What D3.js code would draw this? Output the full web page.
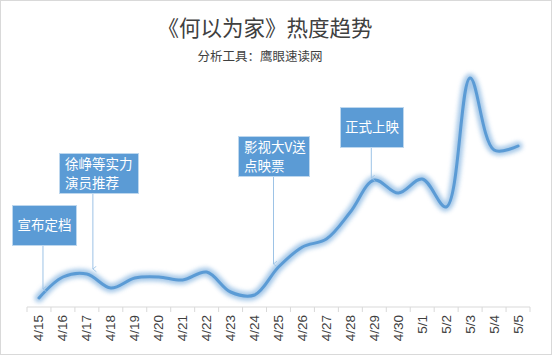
<!DOCTYPE html>
<html><head><meta charset="utf-8">
<script src="https://cdn.jsdelivr.net/npm/d3@7"></script>
<style>
html,body{margin:0;padding:0;background:#fff;}
svg{display:block;}
</style></head>
<body>
<svg id="chart" width="553" height="356"></svg>
<script>
const categories = ["4/15","4/16","4/17","4/18","4/19","4/20","4/21","4/22","4/23","4/24","4/25","4/26","4/27","4/28","4/29","4/30","5/1","5/2","5/3","5/4","5/5"];
const heatValues = [8,29,32,18,28,29,26,34,14,11,39,59,67,94,126,113,127,99,228,156,160];
const annotationDates = ["4/15","4/17","4/25","4/29"];
const annotationTexts = [["宣布定档"],["徐峥等实力","演员推荐"],["影视大V送","点映票"],["正式上映"]];
const annotationBoxTops = [205,153,136,107];
const annotationBoxLefts = [12,59,238,340];
const annotationBoxWidths = [64,79,71,63];
const titleText = "《何以为家》热度趋势";
const subtitleText = "分析工具：鹰眼速读网";

const svg = d3.select("#chart");
const W = 553, H = 356;
const cjk = "'Noto Sans CJK SC','Noto Sans',sans-serif";

// frame
svg.append("rect").attr("x",0.5).attr("y",0.5).attr("width",W-2).attr("height",H-2)
  .attr("fill","#fff").attr("stroke","#d9d9d9");

svg.append("text").attr("x",265).attr("y",36).attr("text-anchor","middle")
  .attr("font-family",cjk).attr("font-size",21.5).attr("fill","#404040").text(titleText);
svg.append("text").attr("x",260).attr("y",61).attr("text-anchor","middle")
  .attr("font-family",cjk).attr("font-size",12.5).attr("fill","#404040").text(subtitleText);

const x = d3.scaleBand().domain(categories).range([27,530]).padding(0);
const y = d3.scaleLinear().domain([0,230]).range([306,76]);

// axis
const axisG = svg.append("g").attr("transform","translate(0,307)");
axisG.append("line").attr("x1",27).attr("x2",530).attr("y1",0).attr("y2",0).attr("stroke","#d9d9d9");
const bounds = categories.map(c=>x(c)).concat([x.range()[1]]);
axisG.selectAll("line.tick").data(bounds).join("line").attr("class","tick")
  .attr("x1",d=>d).attr("x2",d=>d).attr("y1",0).attr("y2",5).attr("stroke","#d9d9d9");
axisG.selectAll("text").data(categories).join("text")
  .attr("transform",d=>`translate(${x(d)+x.bandwidth()/2+4.5},8) rotate(-90)`)
  .attr("text-anchor","end")
  .attr("font-family","'Liberation Sans',Arial,sans-serif").attr("font-size",13.5)
  .attr("fill","#404040").text(d=>d);

// glow filter
const defs = svg.append("defs");
const f = defs.append("filter").attr("id","glow").attr("x","-10%").attr("y","-10%").attr("width","120%").attr("height","120%");
f.append("feGaussianBlur").attr("stdDeviation",2.2);
defs.append("marker").attr("id","arr").attr("viewBox","0 0 10 10").attr("refX",5).attr("refY",9)
  .attr("markerWidth",7).attr("markerHeight",7).attr("orient","auto-start-reverse").attr("markerUnits","userSpaceOnUse")
  .append("path").attr("d","M1,4 L5,9 L9,4").attr("fill","none").attr("stroke","#9dc3e6").attr("stroke-width",1.2);

const line = d3.line().x((d,i)=>x(categories[i])+x.bandwidth()/2).y(d=>y(d)).curve(d3.curveCatmullRom.alpha(0.5));

svg.append("path").datum(heatValues).attr("d",line).attr("fill","none")
  .attr("stroke","#9dc3e6").attr("stroke-width",9).attr("stroke-linecap","round").attr("stroke-linejoin","round")
  .attr("filter","url(#glow)").attr("opacity",0.9);
svg.append("path").datum(heatValues).attr("d",line).attr("fill","none")
  .attr("stroke","#5b9bd5").attr("stroke-width",3).attr("stroke-linecap","round").attr("stroke-linejoin","round");

// annotations
annotationDates.forEach((d,i)=>{
  const lines = annotationTexts[i];
  const top = annotationBoxTops[i], left = annotationBoxLefts[i], w = annotationBoxWidths[i];
  const h = lines.length===1 ? 40 : 40;
  const ax = x(d)+x.bandwidth()/2 + [4,6,-5,-3][i];
  const idx = categories.indexOf(d);
  const py = y(heatValues[idx]);
  svg.append("line").attr("x1",ax).attr("x2",ax).attr("y1",top+h).attr("y2",py-[9,5,3,2][i])
    .attr("stroke","#9dc3e6").attr("stroke-width",1).attr("marker-end","url(#arr)");
  svg.append("rect").attr("x",left+0.5).attr("y",top+0.5).attr("width",w).attr("height",h)
    .attr("fill","#5b9bd5").attr("stroke","#bdd7ee").attr("stroke-width",1);
  const t = svg.append("text").attr("font-family",cjk).attr("font-size",13.5).attr("fill","#fff");
  if(lines.length===1){
    t.append("tspan").attr("x",left+w/2+0.5).attr("y",top+25).attr("text-anchor","middle").text(lines[0]);
  } else {
    lines.forEach((s,j)=>{
      t.append("tspan").attr("x",left+6).attr("y",top+16+j*18.5).text(s);
    });
  }
});
</script>
</body></html>
